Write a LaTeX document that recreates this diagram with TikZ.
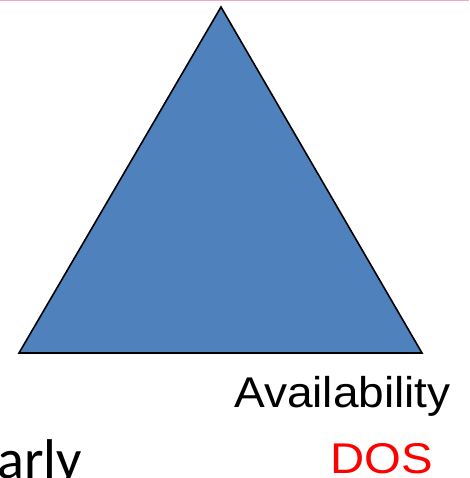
\documentclass[tikz,border=0pt]{standalone}
\usepackage{fontspec}
\setmainfont{Liberation Sans}
\newfontfamily\calib{Carlito}
\definecolor{triblue}{HTML}{4F81BD}
\definecolor{toppink}{HTML}{F2A7C3}
\begin{document}
\begin{tikzpicture}[x=1pt,y=-1pt,
  lbl/.style={inner sep=0pt,anchor=base west}]
\useasboundingbox (0,0) rectangle (469,478);
\fill[white] (0,0) rectangle (469,478);
\draw[toppink,line width=2pt] (0,0.5) -- (469,0.5);
\coordinate (apex) at (221,7);
\coordinate (bl) at (19,353);
\coordinate (br) at (422,353);
\filldraw[fill=triblue,draw=black,line width=1.6pt,line join=miter] (apex) -- (br) -- (bl) -- cycle;
\node[lbl,font=\fontsize{43}{50}\selectfont] (avail) at (234,407) {\scalebox{1.07}[1]{Availability}};
\node[lbl,font=\fontsize{43}{50}\selectfont,text=red] (dos) at (330,473) {\scalebox{1.1}[1]{DOS}};
\node[lbl,font=\calib\fontsize{56}{66}\selectfont] (early) at (-3,478.5) {arly};
\end{tikzpicture}
\end{document}
